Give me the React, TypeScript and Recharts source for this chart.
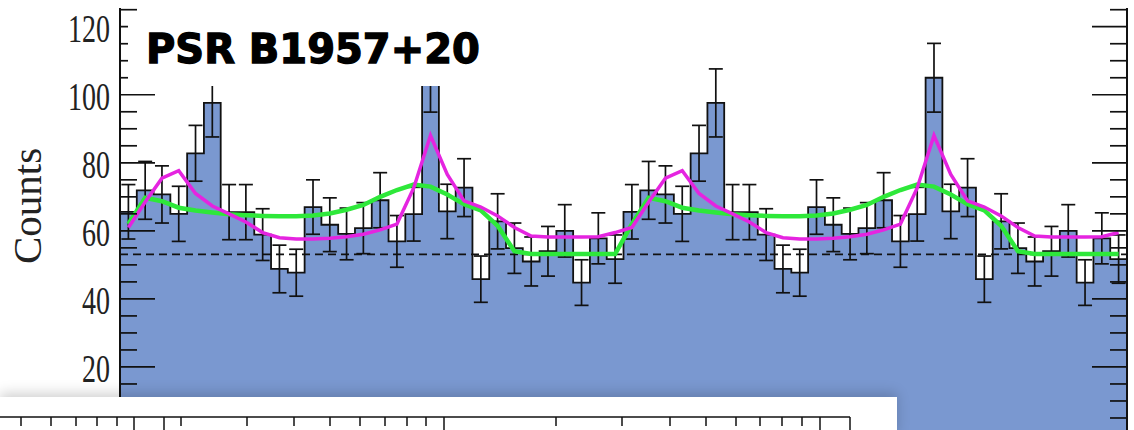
import React from 'react';
import { ComposedChart, Area, Line, Scatter, ErrorBar, XAxis, YAxis, ReferenceLine } from 'recharts';

// one pulse period, 30 phase bins (drawn twice, phase 0..2)
const counts = [65.6, 71.9, 70.7, 65.0, 82.8, 97.6, 65.5, 65.5, 58.9, 48.8, 47.7, 67.0, 61.8, 59.1, 60.8, 69.0, 56.9, 64.9, 105.0, 65.7, 72.7, 45.8, 62.8, 54.9, 51.0, 54.0, 60.0, 44.8, 57.8, 51.7];
const countErrors = [8.0, 8.5, 8.4, 8.1, 8.2, 10.0, 8.1, 8.1, 7.6, 7.0, 6.9, 8.0, 7.9, 7.6, 7.5, 8.1, 7.6, 7.9, 10.1, 8.0, 8.5, 6.8, 8.1, 7.4, 7.2, 7.3, 7.7, 6.7, 7.5, 7.1];
const magentaModel = [61.0, 68.5, 75.5, 77.7, 71.0, 67.3, 65.0, 62.6, 59.5, 58.0, 57.6, 57.6, 57.8, 58.3, 59.0, 60.3, 62.0, 72.6, 88.0, 76.6, 68.8, 67.0, 64.4, 61.0, 58.5, 58.2, 58.2, 58.2, 58.3, 59.5];
const greenModel = [62.0, 69.7, 68.7, 66.8, 66.0, 65.4, 64.9, 64.6, 64.4, 64.3, 64.3, 64.5, 65.1, 66.2, 67.6, 70.0, 72.0, 73.6, 73.0, 70.7, 67.8, 66.0, 61.5, 54.0, 53.2, 53.2, 53.2, 53.2, 53.2, 53.2];
const background = 53.1;
const periods = 2;

const yTicks = [0, 5, 10, 15, 20, 25, 30, 35, 40, 45, 50, 55, 60, 65, 70, 75, 80, 85, 90, 95, 100, 105, 110, 115, 120, 125];
const yLabels = [20, 40, 60, 80, 100, 120];
const xTicks = [0, 0.05, 0.1, 0.15, 0.2, 0.25, 0.3, 0.35, 0.4, 0.45, 0.5, 0.55, 0.6, 0.65, 0.7, 0.75, 0.8, 0.85, 0.9, 0.95, 1, 1.05, 1.1, 1.15, 1.2, 1.25, 1.3, 1.35, 1.4, 1.45, 1.5, 1.55, 1.6, 1.65, 1.7, 1.75, 1.8, 1.85, 1.9, 1.95, 2];
const xMajorTicks = [0, 0.2, 0.4, 0.6, 0.8, 1, 1.2, 1.4, 1.6, 1.8, 2];

// ticks of the panel that overlaps the bottom of the slide
const lowerPanelTicks = [
  { x: 21, major: false }, { x: 51, major: false }, { x: 76, major: false }, { x: 97, major: false },
  { x: 117, major: false }, { x: 134, major: true }, { x: 164, major: true }, { x: 181, major: false },
  { x: 247, major: false }, { x: 294, major: false }, { x: 330, major: false }, { x: 360, major: false },
  { x: 385, major: false }, { x: 407, major: false }, { x: 426, major: false }, { x: 444, major: true },
  { x: 556, major: false }, { x: 622, major: false }, { x: 670, major: false }, { x: 706, major: false },
  { x: 736, major: false }, { x: 760, major: false }, { x: 782, major: false }, { x: 802, major: false },
  { x: 820, major: true },
];

const nBins = counts.length;

const histRows: { x: number; count: number }[] = [];
const pointRows: { x: number; count: number; err: number; magenta: number; green: number }[] = [];
for (let p = 0; p < periods; p++) {
  counts.forEach((c, i) => {
    histRows.push({ x: (p * nBins + i) / nBins, count: c });
    pointRows.push({
      x: (p * nBins + i + 0.5) / nBins,
      count: c,
      err: countErrors[i],
      magenta: magentaModel[i],
      green: greenModel[i],
    });
  });
}
histRows.push({ x: periods, count: counts[nBins - 1] });

const W = 1134;
const H = 440;
const PLOT_LEFT = 120;
const PLOT_RIGHT = 1127;
const PLOT_TOP = 8;
const PLOT_BOTTOM = 435;
const FILL = '#7a98d0';
const INK = '#111';

const XTick = (props: any) => {
  const { x, payload } = props;
  const major = xMajorTicks.some((t) => Math.abs(t - payload.value) < 1e-6);
  const len = major ? 29 : 14;
  return (
    <g>
      <line x1={x} x2={x} y1={PLOT_TOP} y2={PLOT_TOP + len} stroke={INK} strokeWidth={1.7} />
      <line x1={x} x2={x} y1={PLOT_BOTTOM - len} y2={PLOT_BOTTOM} stroke={INK} strokeWidth={1.7} />
    </g>
  );
};

const YTick = (props: any) => {
  const { y, payload } = props;
  const v = payload.value;
  const major = v % 20 === 0;
  const len = major ? 35 : 17;
  return (
    <g>
      <line x1={PLOT_LEFT} x2={PLOT_LEFT + len} y1={y} y2={y} stroke={INK} strokeWidth={1.7} />
      <line x1={PLOT_RIGHT - len} x2={PLOT_RIGHT} y1={y} y2={y} stroke={INK} strokeWidth={1.7} />
      {yLabels.includes(v) && (
        <text
          transform={`translate(110, ${y + 15}) scale(0.7, 1)`}
          textAnchor="end"
          fontFamily="'Liberation Serif', serif"
          fontSize={40}
          fill="#222"
        >
          {v}
        </text>
      )}
    </g>
  );
};

export default function App() {
  return (
    <div style={{ position: 'absolute', left: 0, top: 0, width: W, height: 430, overflow: 'hidden', background: '#fff' }}>
      <ComposedChart width={W} height={H} data={histRows} margin={{ top: PLOT_TOP, right: W - PLOT_RIGHT, bottom: H - PLOT_BOTTOM, left: 0 }}>
        <Area
          type="stepAfter"
          dataKey="count"
          stroke={INK}
          strokeWidth={1.8}
          fill={FILL}
          fillOpacity={1}
          baseValue={0}
          isAnimationActive={false}
          dot={false}
          activeDot={false}
        />
        <ReferenceLine y={background} stroke={INK} strokeWidth={1.7} strokeDasharray="8 5" />
        <Scatter data={pointRows} dataKey="count" shape={() => <g />} isAnimationActive={false}>
          <ErrorBar dataKey="err" direction="y" width={7} stroke={INK} strokeWidth={1.7} isAnimationActive={false} />
        </Scatter>
        <Line data={pointRows} type="linear" dataKey="green" stroke="#2ee83a" strokeWidth={4.5} dot={false} isAnimationActive={false} />
        <Line data={pointRows} type="linear" dataKey="magenta" stroke="#e524e0" strokeWidth={3.5} dot={false} isAnimationActive={false} />
        <ReferenceLine x={periods} stroke={INK} strokeWidth={2} />
        <XAxis
          dataKey="x"
          type="number"
          orientation="top"
          domain={[0, periods]}
          ticks={xTicks}
          interval={0}
          height={0}
          tick={<XTick />}
          tickLine={false}
          axisLine={{ stroke: INK, strokeWidth: 2 }}
          allowDataOverflow
        />
        <YAxis
          type="number"
          domain={[0, 125.5]}
          ticks={yTicks}
          interval={0}
          width={PLOT_LEFT}
          tick={<YTick />}
          tickLine={false}
          axisLine={{ stroke: INK, strokeWidth: 2 }}
          allowDataOverflow
        />
      </ComposedChart>

      <svg width={W} height={430} style={{ position: 'absolute', left: 0, top: 0, pointerEvents: 'none' }}>
        <text
          transform="translate(41, 206) rotate(-90)"
          textAnchor="middle"
          fontFamily="'Liberation Serif', serif"
          fontSize={41}
          fill="#222"
        >
          Counts
        </text>
        <rect x={128} y={14} width={369} height={72} fill="#fff" />
        <text
          x={146}
          y={63}
          fontFamily="'DejaVu Sans', sans-serif"
          fontWeight="bold"
          fontSize={40}
          fill="#000"
          stroke="#000"
          strokeWidth={1.3}
        >
          PSR B1957+20
        </text>
      </svg>

      <div
        style={{
          position: 'absolute',
          left: 0,
          top: 397,
          width: 897,
          height: 40,
          background: '#fff',
          boxShadow: '0 -4px 12px rgba(0,0,0,0.18)',
        }}
      >
        <svg width={897} height={40}>
          <line x1={0} x2={850} y1={20} y2={20} stroke={INK} strokeWidth={1.5} />
          <line x1={850} x2={850} y1={20} y2={40} stroke={INK} strokeWidth={1.5} />
          {lowerPanelTicks.map((t) => (
            <line key={t.x} x1={t.x} x2={t.x} y1={20} y2={t.major ? 40 : 29} stroke={INK} strokeWidth={1.5} />
          ))}
        </svg>
      </div>
    </div>
  );
}
